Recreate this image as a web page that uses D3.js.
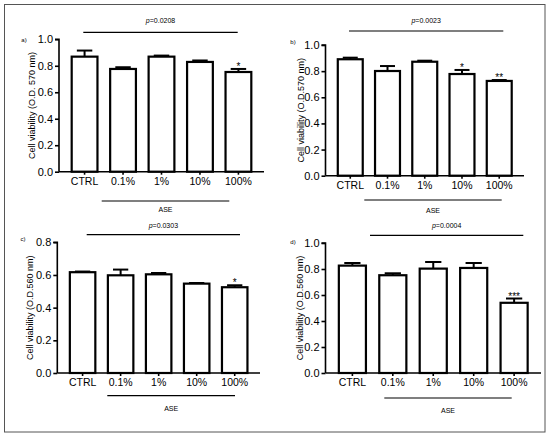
<!DOCTYPE html>
<html>
<head>
<meta charset="utf-8">
<script src="https://cdn.jsdelivr.net/npm/d3@7"></script>
<style>
html,body{margin:0;padding:0;background:#fff;}
svg{display:block;font-family:"Liberation Sans",Arial,sans-serif;}
</style>
</head>
<body>
<svg id="chart" width="550" height="436"></svg>
<script>
// ---------- DATA ----------
const categories = ["CTRL", "0.1%", "1%", "10%", "100%"];
const panelTags = ["a)", "b)", "c)", "d)"];
const yLabels = [
  "Cell viability (O.D. 570 nm)",
  "Cell viability (O.D.570 nm)",
  "Cell viability (O.D.560 nm)",
  "Cell viability (O.D.560 nm)"
];
const pValues = ["0.0208", "0.0023", "0.0303", "0.0004"];
const groupLabel = "ASE";

const meansA = [0.869, 0.776, 0.869, 0.829, 0.753];
const errsA  = [0.046, 0.013, 0.008, 0.011, 0.023];
const starsA = ["", "", "", "", "*"];

const meansB = [0.891, 0.801, 0.872, 0.778, 0.725];
const errsB  = [0.012, 0.038, 0.008, 0.031, 0.007];
const starsB = ["", "", "", "*", "**"];

const meansC = [0.617, 0.598, 0.604, 0.547, 0.525];
const errsC  = [0.004, 0.035, 0.008, 0.004, 0.012];
const starsC = ["", "", "", "", "*"];

const meansD = [0.826, 0.752, 0.803, 0.808, 0.540];
const errsD  = [0.020, 0.015, 0.051, 0.038, 0.033];
const starsD = ["", "", "", "", "***"];

const yMaxes = [1.0, 1.0, 0.8, 1.0];
const yTicksA = [0, 0.2, 0.4, 0.6, 0.8, 1.0];
const yTicksC = [0, 0.2, 0.4, 0.6, 0.8];

// ---------- LAYOUT ----------
const layout = [
  {x0: 59,    x1: 264, yTop: 39.3, yBot: 171.7, tagX: 24,  tagY: 42,
   pY: 32.3, pX0: 83.3, pX1: 237.7, pTextY: 22.5,
   gY: 201, gX0: 101.7, gX1: 229.3, gTextY: 212, ylX: 32.5},
  {x0: 325.5, x1: 524, yTop: 45,   yBot: 175.7, tagX: 293, tagY: 44,
   pY: 31, pX0: 349, pX1: 503.3, pTextY: 23,
   gY: 200, gX0: 364.3, gX1: 501.7, gTextY: 213, ylX: 302},
  {x0: 57.3,  x1: 260, yTop: 242.3, yBot: 373, tagX: 23, tagY: 240.5,
   pY: 234.7, pX0: 86.7, pX1: 240, pTextY: 227.5,
   gY: 395.7, gX0: 107.3, gX1: 235, gTextY: 410.5, ylX: 30.5},
  {x0: 325.5, x1: 541, yTop: 243, yBot: 373, tagX: 293, tagY: 243.5,
   pY: 235.3, pX0: 370, pX1: 523.3, pTextY: 227.5,
   gY: 398, gX0: 384.3, gX1: 511.7, gTextY: 413, ylX: 300.5}
];

const panels = [
  {means: meansA, errs: errsA, stars: starsA, ticks: yTicksA},
  {means: meansB, errs: errsB, stars: starsB, ticks: yTicksA},
  {means: meansC, errs: errsC, stars: starsC, ticks: yTicksC},
  {means: meansD, errs: errsD, stars: starsD, ticks: yTicksA}
];

const svg = d3.select("#chart");

// outer frame
svg.append("rect")
  .attr("x", 4.5).attr("y", 4.5).attr("width", 540.5).attr("height", 427.5)
  .attr("fill", "none").attr("stroke", "#555").attr("stroke-width", 1);

panels.forEach((p, i) => {
  const L = layout[i];
  const g = svg.append("g");
  const x = d3.scaleBand().domain(categories).range([L.x0, L.x1]).padding(0.33);
  const y = d3.scaleLinear().domain([0, yMaxes[i]]).range([L.yBot, L.yTop]);
  const data = categories.map((c, k) => ({c, m: p.means[k], e: p.errs[k], s: p.stars[k]}));

  // error bars (upper only)
  const capHalf = x.bandwidth() * 0.3;
  data.forEach(d => {
    const cx = x(d.c) + x.bandwidth() / 2;
    g.append("line").attr("x1", cx).attr("x2", cx)
      .attr("y1", y(d.m)).attr("y2", y(d.m + d.e))
      .attr("stroke", "#000").attr("stroke-width", 2);
    g.append("line").attr("x1", cx - capHalf).attr("x2", cx + capHalf)
      .attr("y1", y(d.m + d.e)).attr("y2", y(d.m + d.e))
      .attr("stroke", "#000").attr("stroke-width", 2);
  });

  // bars
  g.selectAll("rect.bar").data(data).join("rect")
    .attr("class", "bar")
    .attr("x", d => x(d.c))
    .attr("y", d => y(d.m))
    .attr("width", x.bandwidth())
    .attr("height", d => y(0) - y(d.m))
    .attr("fill", "#fff").attr("stroke", "#000").attr("stroke-width", 2.2);

  // stars
  data.filter(d => d.s).forEach(d => {
    g.append("text")
      .attr("x", x(d.c) + x.bandwidth() / 2)
      .attr("y", y(d.m + d.e) + 1)
      .attr("text-anchor", "middle")
      .attr("font-size", 10).attr("fill", "#000")
      .text(d.s);
  });

  // y axis
  const ya = g.append("g").attr("transform", `translate(${L.x0},0)`)
    .call(d3.axisLeft(y).tickValues(p.ticks).tickFormat(d3.format(".1f")).tickSize(4).tickPadding(2));
  ya.select(".domain").attr("stroke-width", 1.6).attr("d", `M-4,${L.yTop}H0V${L.yBot}`);
  ya.selectAll(".tick line").attr("stroke-width", 1.6);
  ya.selectAll(".tick text").attr("font-size", 11).attr("font-family", "Liberation Sans, Arial, sans-serif");

  // x axis
  const xa = g.append("g").attr("transform", `translate(0,${L.yBot})`)
    .call(d3.axisBottom(x).tickSize(3).tickPadding(3));
  xa.select(".domain").attr("stroke-width", 1.6).attr("d", `M${L.x0},0H${L.x1}`);
  xa.selectAll(".tick line").attr("stroke-width", 1.6);
  xa.selectAll(".tick text").attr("font-size", 10.5).attr("font-family", "Liberation Sans, Arial, sans-serif");

  // y label
  g.append("text")
    .attr("transform", `translate(${L.ylX},${(L.yTop + L.yBot) / 2}) rotate(-90)`)
    .attr("text-anchor", "middle").attr("dominant-baseline", "middle")
    .attr("font-size", 9).attr("fill", "#000")
    .text(yLabels[i]);

  // panel tag
  g.append("text").attr("x", L.tagX).attr("y", L.tagY)
    .attr("text-anchor", "middle").attr("font-size", 6).attr("fill", "#000")
    .text(panelTags[i]);

  // p-value line and text
  g.append("line").attr("x1", L.pX0).attr("x2", L.pX1).attr("y1", L.pY).attr("y2", L.pY)
    .attr("stroke", "#000").attr("stroke-width", 1.2);
  const pt = g.append("text").attr("x", (L.pX0 + L.pX1) / 2).attr("y", L.pTextY)
    .attr("text-anchor", "middle").attr("font-size", 7).attr("fill", "#000");
  pt.append("tspan").attr("font-style", "italic").text("p");
  pt.append("tspan").text("=" + pValues[i]);

  // group line and label
  g.append("line").attr("x1", L.gX0).attr("x2", L.gX1).attr("y1", L.gY).attr("y2", L.gY)
    .attr("stroke", "#000").attr("stroke-width", 1.2);
  g.append("text").attr("x", (L.gX0 + L.gX1) / 2).attr("y", L.gTextY)
    .attr("text-anchor", "middle").attr("font-size", 7).attr("fill", "#000")
    .text(groupLabel);
});
</script>
</body>
</html>
